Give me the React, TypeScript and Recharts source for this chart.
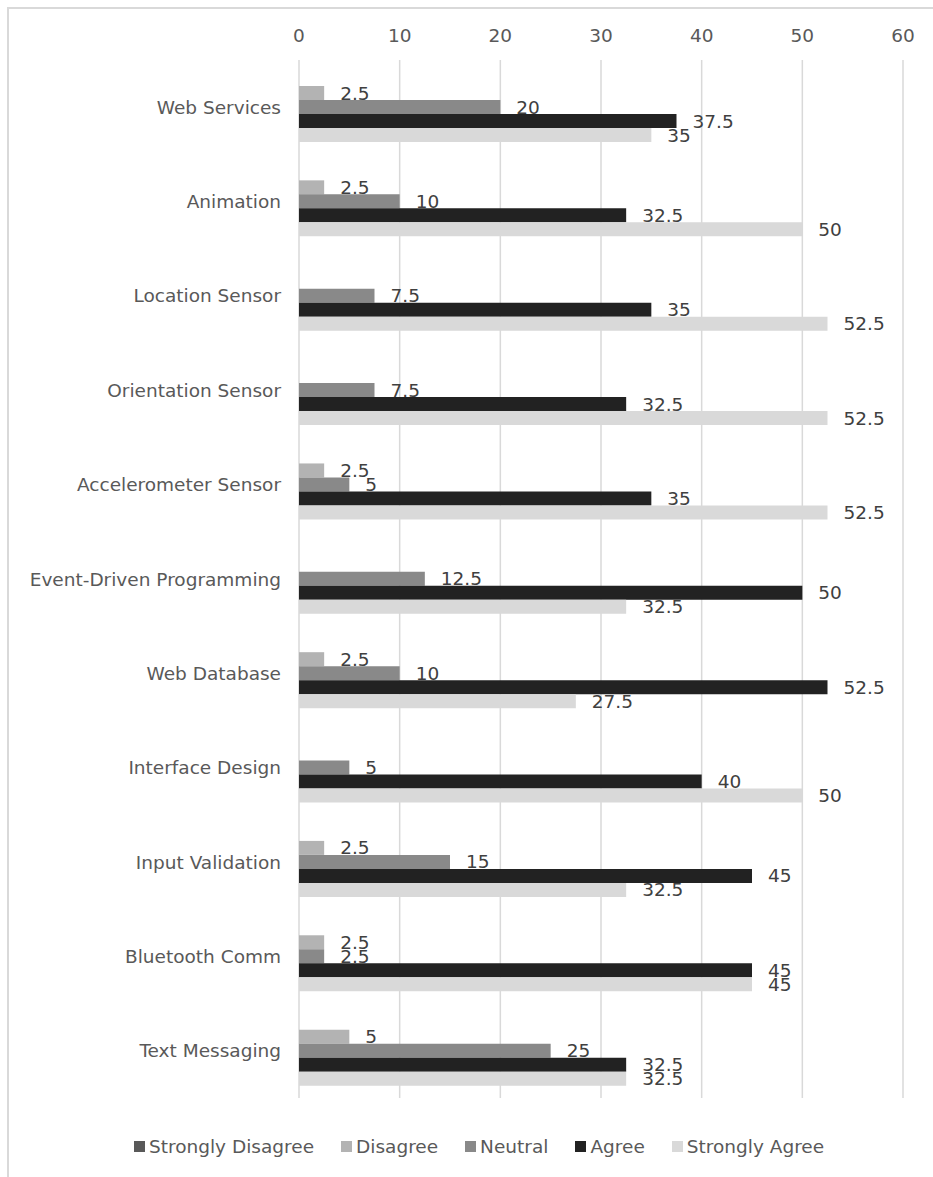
import {
  BarChart,
  Bar,
  XAxis,
  YAxis,
  CartesianGrid,
  Legend,
  LabelList,
} from "recharts";

const topics = [
  "Web Services",
  "Animation",
  "Location Sensor",
  "Orientation Sensor",
  "Accelerometer Sensor",
  "Event-Driven Programming",
  "Web Database",
  "Interface Design",
  "Input Validation",
  "Bluetooth Comm",
  "Text Messaging",
];

// percentages per topic, null where nobody answered
const stronglyDisagree = [null, null, null, null, null, null, null, null, null, null, null];
const disagree = [2.5, 2.5, null, null, 2.5, null, 2.5, null, 2.5, 2.5, 5];
const neutral = [20, 10, 7.5, 7.5, 5, 12.5, 10, 5, 15, 2.5, 25];
const agree = [37.5, 32.5, 35, 32.5, 35, 50, 52.5, 40, 45, 45, 32.5];
const stronglyAgree = [35, 50, 52.5, 52.5, 52.5, 32.5, 27.5, 50, 32.5, 45, 32.5];

const xTicks = [0, 10, 20, 30, 40, 50, 60];

const series = [
  { key: "stronglyDisagree", name: "Strongly Disagree", color: "#595959" },
  { key: "disagree", name: "Disagree", color: "#b3b3b3" },
  { key: "neutral", name: "Neutral", color: "#898989" },
  { key: "agree", name: "Agree", color: "#222222" },
  { key: "stronglyAgree", name: "Strongly Agree", color: "#d9d9d9" },
];

const data = topics.map((topic, i) => ({
  topic,
  stronglyDisagree: stronglyDisagree[i],
  disagree: disagree[i],
  neutral: neutral[i],
  agree: agree[i],
  stronglyAgree: stronglyAgree[i],
}));

const FONT = "'DejaVu Sans', Verdana, sans-serif";
const FONT_SIZE = 18.5;

function LegendRow() {
  return (
    <div style={{ display: "flex", fontFamily: FONT, fontSize: FONT_SIZE, color: "#595959" }}>
      {series.map((s) => (
        <div key={s.key} style={{ display: "flex", alignItems: "center", marginRight: 27 }}>
          <span style={{ width: 11, height: 11, background: s.color, marginRight: 4 }} />
          <span style={{ whiteSpace: "nowrap" }}>{s.name}</span>
        </div>
      ))}
    </div>
  );
}

export default function App() {
  return (
    <div style={{ position: "absolute", left: 0, top: 0, width: 933, height: 1177, background: "#fff" }}>
      <div
        style={{
          position: "absolute",
          left: 7,
          top: 7,
          width: 926,
          height: 1170,
          boxSizing: "border-box",
          borderTop: "2px solid #d9d9d9",
          borderLeft: "2px solid #d9d9d9",
        }}
      />
      <div style={{ position: "absolute", left: 0, top: 0 }}>
        <BarChart
          width={933}
          height={1177}
          data={data}
          layout="vertical"
          margin={{ top: 0, right: 30, bottom: 79, left: 0 }}
          barSize={14}
          barGap={0}
        >
          <CartesianGrid horizontal={false} stroke="#d9d9d9" strokeWidth={1.5} />
          <XAxis
            type="number"
            orientation="top"
            domain={[0, 60]}
            ticks={xTicks}
            height={60}
            axisLine={false}
            tickLine={false}
            tickSize={0}
            tickMargin={18}
            tick={{ fill: "#595959", fontSize: FONT_SIZE, fontFamily: FONT }}
          />
          <YAxis
            type="category"
            dataKey="topic"
            width={299}
            axisLine={false}
            tickLine={false}
            tickSize={0}
            tickMargin={18}
            tick={{ fill: "#595959", fontSize: FONT_SIZE, fontFamily: FONT }}
          />
          <Legend
            layout="horizontal"
            verticalAlign="middle"
            align="center"
            wrapperStyle={{ left: 134, top: 1136, width: "auto" }}
            content={() => <LegendRow />}
          />
          {series.map((s) => (
            <Bar key={s.key} dataKey={s.key} name={s.name} fill={s.color} isAnimationActive={false}>
              <LabelList
                dataKey={s.key}
                position="right"
                offset={16}
                fill="#404040"
                fontSize={FONT_SIZE}
                fontFamily={FONT}
              />
            </Bar>
          ))}
        </BarChart>
      </div>
    </div>
  );
}
